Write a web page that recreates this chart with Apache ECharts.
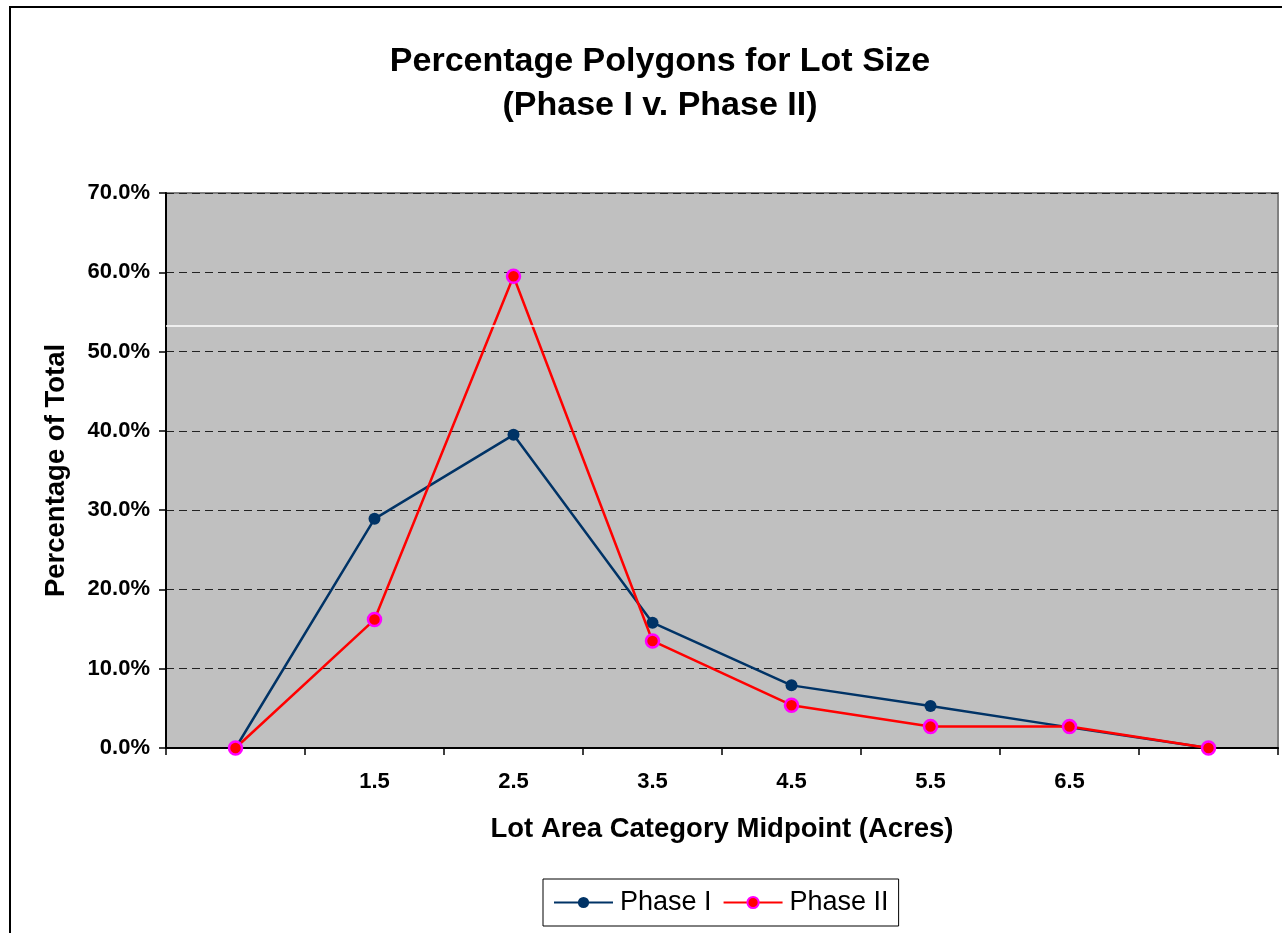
<!DOCTYPE html>
<html>
<head>
<meta charset="utf-8">
<script src="https://cdn.jsdelivr.net/npm/echarts@6/dist/echarts.min.js"></script>
<style>html,body{margin:0;padding:0;background:#fff;}#c{width:1282px;height:933px;}</style>
</head>
<body>
<div id="c"></div>
<script>
const categories = ['', '1.5', '2.5', '3.5', '4.5', '5.5', '6.5', ''];
const phaseI = [0, 28.9, 39.5, 15.8, 7.9, 5.3, 2.6, 0];
const phaseII = [0, 16.2, 59.5, 13.5, 5.4, 2.7, 2.7, 0];
const yTicks = [0, 10, 20, 30, 40, 50, 60, 70];
const whiteRuleY = 53.3;

const chart = echarts.init(document.getElementById('c'), null, {renderer: 'canvas'});
const font = 'Liberation Sans, Arial, sans-serif';
chart.setOption({
  backgroundColor: '#ffffff',
  animation: false,
  title: {
    text: 'Percentage Polygons for Lot Size\n(Phase I v. Phase II)',
    left: 655, top: 35, textAlign: 'center',
    textStyle: {fontFamily: font, fontWeight: 'bold', fontSize: 34, lineHeight: 44, color: '#000'}
  },
  graphic: [{
    type: 'rect', shape: {x: 10, y: 7, width: 1400, height: 1000},
    style: {fill: 'none', stroke: '#000', lineWidth: 2}, silent: true, z: 100
  }],
  legend: {
    left: 543, top: 879,
    padding: [10, 10, 10, 10],
    itemGap: 11, itemWidth: 59, itemHeight: 14,
    borderColor: '#000', borderWidth: 1,
    textStyle: {fontFamily: font, fontSize: 27, color: '#000', padding: [0, 0, 0, 2]},
    data: ['Phase I', 'Phase II']
  },
  grid: {left: 166, top: 193, right: 4, bottom: 185, show: true, backgroundColor: '#C0C0C0', borderColor: '#808080', borderWidth: 2},
  xAxis: {
    type: 'category', data: categories, boundaryGap: true,
    name: 'Lot Area Category Midpoint (Acres)', nameLocation: 'middle', nameGap: 67,
    nameTextStyle: {fontFamily: font, fontWeight: 'bold', fontSize: 27.5, color: '#000'},
    axisLine: {lineStyle: {color: '#000', width: 2}},
    axisTick: {show: true, interval: 0, length: 7, lineStyle: {color: '#000', width: 1.5}},
    axisLabel: {interval: 0, margin: 23, fontFamily: font, fontWeight: 'bold', fontSize: 22, color: '#000'},
    splitLine: {show: false}
  },
  yAxis: {
    type: 'value', min: yTicks[0], max: yTicks[yTicks.length - 1], interval: 10,
    name: 'Percentage of Total', nameLocation: 'middle', nameGap: 96, nameRotate: 90,
    nameTextStyle: {fontFamily: font, fontWeight: 'bold', fontSize: 27.5, color: '#000'},
    axisLine: {show: true, lineStyle: {color: '#000', width: 2}},
    axisTick: {show: true, inside: false, length: 7, lineStyle: {color: '#000', width: 1.5}},
    axisLabel: {margin: 16, fontFamily: font, fontWeight: 'bold', fontSize: 22, color: '#000',
      formatter: v => v.toFixed(1) + '%'},
    splitLine: {show: true, lineStyle: {color: '#222', type: [8, 5], width: 1}}
  },
  series: [
    {
      name: 'Phase I', type: 'line', data: phaseI,
      symbol: 'circle', symbolSize: 12,
      lineStyle: {color: '#003366', width: 2.5},
      itemStyle: {color: '#003366'},
      markLine: {
        silent: true, symbol: 'none', label: {show: false},
        lineStyle: {color: '#ffffff', type: 'solid', width: 1.5},
        data: [{yAxis: whiteRuleY}]
      },
      z: 3
    },
    {
      name: 'Phase II', type: 'line', data: phaseII,
      symbol: 'circle', symbolSize: 13,
      lineStyle: {color: '#FF0000', width: 2.5},
      itemStyle: {color: '#FF0000', borderColor: '#FF00FF', borderWidth: 2.5},
      z: 4
    }
  ]
});
</script>
</body>
</html>
